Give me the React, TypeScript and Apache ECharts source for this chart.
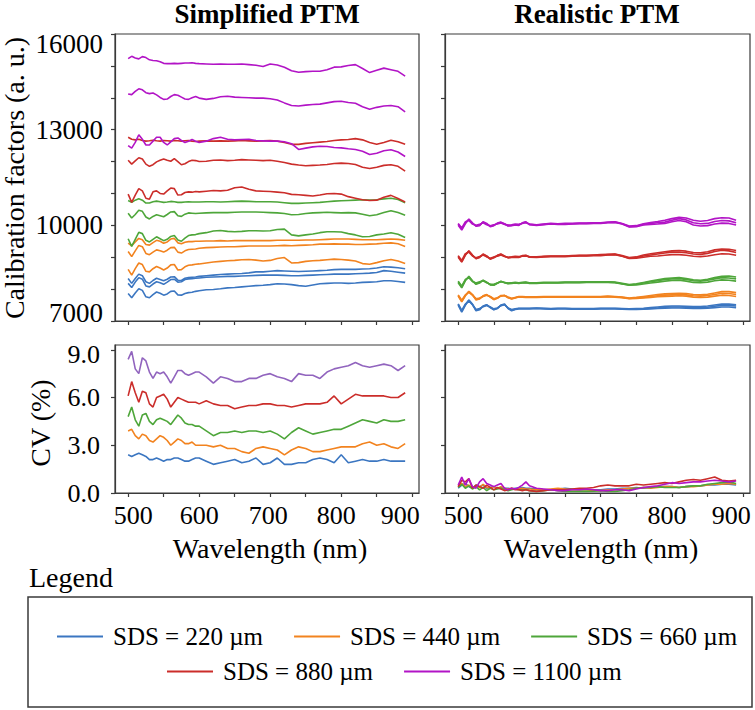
import React, { useEffect, useRef } from "react";
import * as echarts from "echarts";

// ---------- data ----------
const WAVELENGTHS = [
  500, 505, 510, 515, 520, 525, 530, 535, 540, 545, 550, 555, 560, 565, 570, 575, 580, 585, 590, 595, 600,
  610, 620, 630, 640, 650, 660, 670, 680, 690, 700, 710, 720, 730, 740, 750, 760, 770, 780, 790, 800,
  810, 820, 830, 840, 850, 860, 870, 880, 890,
];

const SDS_NAMES = ["SDS = 220 µm", "SDS = 440 µm", "SDS = 660 µm", "SDS = 880 µm", "SDS = 1100 µm"];

const X_TICKS = [500, 550, 600, 650, 700, 750, 800, 850, 900];
const X_TICK_LABELS = [500, 600, 700, 800, 900];
const CAL_TICK_LABELS = [7000, 10000, 13000, 16000];
const CV_TICK_LABELS = [0, 3, 6, 9];

// Simplified PTM – calibration factors (a. u.)
const simpBlue1 = [8330,8180,8330,8470,8420,8230,8180,8270,8340,8300,8260,8310,8380,8390,8280,8270,8340,8360,8370,8380,8400,
  8420,8440,8460,8470,8480,8490,8510,8540,8540,8560,8580,8570,8560,8550,8560,8570,8580,8590,8610,8620,8620,8620,8630,8640,8660,8700,8690,8670,8640];
const simpBlue2 = [8180,8050,8220,8360,8310,8100,8070,8160,8230,8200,8150,8220,8300,8310,8220,8230,8300,8320,8330,8340,8350,
  8370,8380,8390,8400,8400,8410,8420,8430,8440,8440,8440,8430,8420,8420,8430,8440,8450,8460,8470,8470,8470,8480,8490,8500,8520,8580,8560,8530,8500];
const simpBlue3 = [7860,7730,7880,8010,7960,7760,7730,7830,7910,7870,7810,7850,7930,7940,7820,7810,7860,7890,7900,7930,7950,
  7980,7990,8010,8040,8050,8070,8090,8110,8120,8140,8170,8160,8140,8110,8090,8130,8170,8180,8190,8190,8180,8190,8210,8220,8230,8260,8260,8240,8210];
const simpOrange1 = [9440,9360,9480,9590,9550,9400,9380,9460,9530,9500,9440,9480,9570,9590,9450,9420,9470,9490,9490,9500,9500,
  9510,9510,9520,9510,9520,9520,9520,9520,9520,9520,9530,9530,9530,9530,9540,9540,9550,9560,9570,9570,9570,9560,9550,9550,9550,9560,9570,9560,9530];
const simpOrange2 = [9180,9020,9200,9370,9330,9120,9080,9160,9230,9200,9160,9220,9300,9310,9160,9130,9200,9240,9250,9260,9280,
  9300,9310,9320,9330,9330,9340,9350,9350,9350,9350,9360,9370,9360,9370,9380,9390,9410,9410,9420,9410,9410,9400,9400,9410,9420,9440,9450,9420,9340];
const simpOrange3 = [8620,8440,8640,8820,8770,8560,8540,8640,8710,8660,8600,8660,8760,8770,8600,8610,8700,8750,8760,8780,8790,
  8820,8850,8870,8890,8900,8920,8930,8910,8880,8900,8960,8990,8820,8830,8870,8890,8900,8920,8940,8930,8910,8880,8800,8780,8830,8890,8930,8880,8800];
const simpGreen1 = [10780,10720,10790,10830,10790,10700,10700,10740,10760,10740,10720,10730,10750,10740,10720,10720,10730,10740,10730,10730,10730,
  10740,10740,10730,10740,10750,10760,10750,10740,10740,10740,10730,10710,10690,10690,10700,10710,10720,10740,10760,10770,10780,10790,10800,10790,10800,10830,10850,10810,10710];
const simpGreen2 = [10380,10230,10340,10470,10440,10260,10200,10280,10330,10300,10270,10340,10420,10430,10300,10280,10350,10390,10380,10370,10380,
  10390,10400,10400,10400,10410,10420,10420,10420,10410,10400,10390,10370,10330,10340,10370,10390,10400,10410,10400,10390,10400,10390,10350,10300,10330,10400,10460,10400,10320];
const simpGreen3 = [9580,9340,9560,9780,9740,9530,9480,9560,9640,9580,9520,9560,9650,9680,9540,9500,9600,9680,9700,9710,9740,
  9770,9820,9840,9810,9800,9810,9830,9830,9820,9830,9870,9880,9700,9670,9700,9730,9770,9800,9800,9790,9740,9700,9640,9650,9700,9730,9770,9720,9620];
const simpRed1 = [12760,12700,12680,12700,12660,12640,12650,12670,12650,12640,12660,12650,12640,12660,12650,12640,12650,12660,12640,12630,12640,
  12650,12640,12650,12640,12650,12660,12650,12640,12650,12660,12640,12600,12540,12540,12570,12590,12610,12630,12660,12680,12690,12720,12680,12600,12540,12600,12670,12620,12540];
const simpRed2 = [12040,11920,12020,12120,12080,11920,11850,11900,11990,12040,12080,12040,12010,12090,12000,11900,11930,12000,12040,12030,12000,
  12010,12040,12050,12030,12040,12060,12050,12040,12030,12040,12010,11970,11920,11890,11870,11880,11890,11910,11940,11950,11940,11910,11820,11780,11820,11880,11900,11850,11700];
const simpRed3 = [10980,10720,10950,11150,11080,10850,10820,11050,11080,11000,10980,11080,11170,11150,10950,10960,11030,11050,11040,11060,11050,
  11070,11090,11080,11100,11180,11200,11130,11080,11070,11060,11040,11020,10970,10960,10940,10920,10950,10990,11000,10980,10900,10850,10800,10780,10790,10880,10940,10840,10730];
const simpPurple1 = [15230,15300,15250,15220,15290,15260,15190,15170,15160,15130,15080,15070,15070,15080,15070,15080,15090,15090,15100,15080,15070,
  15060,15050,15060,15050,15050,15060,15040,15020,14980,15060,15030,14960,14850,14800,14820,14830,14830,14880,14960,14970,15010,15040,14920,14790,14860,14930,14880,14830,14680];
const simpPurple2 = [14120,14100,14200,14280,14250,14160,14130,14150,14090,14010,13950,13960,14040,14100,14080,14020,13960,13950,14000,14040,13990,
  13950,13980,14030,14050,14020,14010,14000,13990,13990,13970,13930,13840,13760,13740,13770,13790,13800,13840,13880,13890,13850,13830,13720,13640,13700,13740,13760,13720,13560];
const simpPurple3 = [12500,12420,12600,12840,12700,12520,12520,12640,12760,12760,12600,12520,12620,12720,12740,12660,12600,12640,12690,12640,12600,
  12640,12720,12760,12700,12680,12690,12700,12660,12650,12640,12640,12620,12560,12380,12420,12460,12480,12470,12440,12430,12400,12380,12320,12220,12260,12340,12370,12300,12160];

// Realistic PTM – calibration factors (a. u.)
const realBlue1 = [7520,7300,7510,7650,7520,7340,7370,7460,7500,7430,7360,7400,7490,7520,7400,7340,7370,7390,7390,7390,7390,
  7400,7390,7380,7390,7390,7380,7380,7380,7380,7390,7390,7390,7380,7370,7370,7380,7400,7410,7430,7440,7440,7430,7420,7420,7430,7460,7490,7490,7470];
const realBlue2 = [7540,7330,7530,7630,7510,7360,7390,7450,7490,7440,7380,7410,7480,7510,7410,7360,7380,7400,7400,7400,7400,
  7410,7400,7390,7400,7400,7390,7390,7390,7390,7400,7400,7400,7390,7380,7390,7400,7420,7440,7460,7470,7470,7460,7450,7450,7470,7500,7530,7530,7510];
const realBlue3 = [7500,7280,7490,7660,7530,7320,7350,7470,7510,7420,7350,7390,7500,7530,7390,7320,7360,7380,7380,7380,7380,
  7390,7380,7370,7380,7380,7370,7370,7370,7370,7380,7380,7380,7370,7360,7360,7370,7380,7390,7400,7410,7410,7400,7390,7390,7400,7420,7440,7440,7420];
const realOrange1 = [7800,7620,7800,7920,7820,7680,7700,7780,7820,7760,7680,7720,7790,7800,7740,7700,7730,7760,7760,7750,7750,
  7750,7760,7760,7760,7760,7760,7760,7760,7760,7760,7770,7760,7740,7710,7720,7740,7770,7790,7810,7820,7830,7820,7790,7780,7800,7830,7870,7860,7830];
const realOrange2 = [7820,7650,7820,7900,7810,7700,7720,7770,7810,7770,7700,7730,7780,7800,7750,7710,7740,7770,7770,7760,7760,
  7760,7770,7770,7770,7770,7770,7770,7770,7770,7770,7780,7770,7750,7720,7740,7770,7800,7830,7850,7860,7870,7860,7830,7820,7840,7880,7920,7920,7890];
const realOrange3 = [7780,7600,7790,7930,7830,7660,7690,7790,7830,7750,7670,7710,7800,7800,7730,7690,7720,7750,7750,7740,7740,
  7740,7750,7750,7750,7750,7750,7750,7750,7750,7750,7760,7750,7730,7700,7710,7720,7740,7760,7770,7780,7790,7780,7750,7740,7750,7780,7810,7800,7770];
const realGreen1 = [8230,8060,8280,8380,8250,8170,8210,8270,8210,8140,8130,8190,8240,8210,8180,8190,8200,8190,8200,8210,8190,
  8190,8200,8200,8200,8210,8210,8210,8220,8220,8220,8220,8210,8170,8130,8150,8190,8230,8260,8300,8320,8330,8300,8260,8250,8280,8320,8360,8350,8320];
const realGreen2 = [8250,8100,8300,8360,8240,8190,8230,8260,8200,8150,8150,8190,8230,8210,8190,8200,8210,8200,8210,8220,8200,
  8200,8210,8210,8210,8220,8220,8220,8230,8230,8230,8230,8220,8180,8140,8170,8210,8250,8290,8330,8350,8360,8330,8290,8280,8310,8360,8400,8410,8380];
const realGreen3 = [8200,8040,8260,8400,8260,8150,8190,8280,8220,8130,8120,8180,8250,8200,8170,8180,8190,8180,8190,8200,8180,
  8180,8190,8190,8190,8200,8200,8200,8210,8210,8210,8210,8200,8160,8120,8130,8160,8190,8220,8250,8270,8280,8250,8210,8200,8220,8260,8290,8280,8250];
const realRed1 = [9030,8860,9080,9190,9060,8960,9000,9090,9030,8950,8990,9050,9090,9030,8990,9000,9010,9000,9040,9050,9010,
  9000,9020,9030,9030,9030,9040,9050,9050,9060,9060,9080,9090,9040,8970,8990,9040,9070,9100,9130,9160,9160,9140,9100,9090,9120,9180,9220,9200,9150];
const realRed2 = [9050,8900,9110,9160,9040,8980,9020,9070,9010,8970,9010,9030,9070,9020,9000,9010,9030,9020,9030,9040,9020,
  9010,9030,9040,9040,9040,9050,9060,9060,9070,9080,9090,9100,9050,8990,9010,9070,9110,9140,9170,9200,9210,9190,9150,9140,9170,9230,9260,9250,9210];
const realRed3 = [9000,8850,9060,9200,9070,8950,8990,9100,9040,8940,8980,9060,9100,9040,8980,8990,9000,8990,9050,9060,9000,
  8990,9010,9020,9020,9020,9030,9040,9040,9050,9050,9070,9080,9030,8960,8970,9000,9030,9040,9060,9080,9080,9060,9030,9020,9040,9080,9110,9100,9060];
const realPurple1 = [10040,9880,10080,10180,10060,9980,10010,10100,10040,9970,10000,10060,10090,10040,9990,10000,10020,10010,10070,10100,10030,
  10010,10030,10050,10040,10040,10050,10060,10060,10070,10070,10090,10100,10050,9960,9970,10030,10060,10080,10100,10160,10210,10170,10080,10050,10060,10120,10150,10140,10080];
const realPurple2 = [10060,9920,10110,10150,10040,10000,10030,10080,10020,9990,10020,10040,10070,10030,10010,10020,10040,10030,10060,10080,10040,
  10020,10040,10060,10050,10060,10060,10070,10070,10080,10080,10100,10110,10060,9980,9990,10050,10090,10120,10160,10210,10250,10230,10160,10130,10150,10210,10240,10230,10160];
const realPurple3 = [10000,9850,10050,10200,10080,9970,9990,10110,10060,9960,9990,10070,10100,10050,9980,9990,10010,10000,10080,10110,10020,
  10000,10020,10040,10030,10030,10040,10050,10050,10060,10060,10080,10090,10040,9950,9960,10010,10030,10040,10060,10110,10150,10110,10010,9980,9990,10040,10070,10060,10010];

// CV (%) – Simplified PTM
const cvSimpBlue = [2.4,2.3,2.4,2.5,2.4,2.3,2.1,2.1,2.2,2.1,2.0,2.1,2.1,2.2,2.2,2.1,2.0,2.0,2.1,2.2,2.2,
  2.0,1.8,1.9,2.0,2.1,1.9,2.0,2.2,1.8,1.9,2.2,1.8,1.8,1.9,1.9,2.1,2.2,2.1,1.9,2.4,1.9,2.0,2.1,2.0,2.0,2.1,2.0,2.0,2.0];
const cvSimpOrange = [3.9,4.0,3.6,3.4,3.7,3.6,3.3,3.2,3.4,3.6,3.5,3.3,3.0,3.2,3.4,3.3,3.1,3.1,3.2,3.0,3.0,
  3.0,2.9,3.0,2.8,2.8,2.6,2.5,2.8,2.9,2.8,2.7,2.4,2.7,2.9,2.8,2.6,2.6,2.7,2.8,2.9,2.9,2.9,3.1,3.2,3.0,3.1,2.9,2.8,3.1];
const cvSimpGreen = [4.8,5.4,4.6,4.2,4.9,5.0,4.5,4.3,4.6,4.7,4.6,4.5,4.3,4.6,4.9,4.7,4.4,4.3,4.3,4.2,4.2,
  3.9,3.6,3.8,3.8,3.9,3.8,3.9,3.9,3.8,3.9,3.7,3.4,3.8,4.1,3.9,3.7,3.8,3.9,4.0,4.0,4.2,4.4,4.6,4.5,4.4,4.6,4.5,4.5,4.6];
const cvSimpRed = [6.1,7.0,6.3,5.7,6.4,6.3,5.6,5.4,6.0,6.1,6.2,5.9,5.4,5.7,6.0,5.9,5.8,5.7,5.7,5.7,5.6,
  5.8,5.6,5.5,5.5,5.3,5.4,5.5,5.5,5.6,5.6,5.5,5.5,5.4,5.5,5.6,5.6,5.6,5.7,6.1,5.6,5.9,6.2,6.1,6.1,6.1,6.1,6.0,6.0,6.3];
const cvSimpPurple = [8.4,8.9,7.8,7.5,8.5,8.3,7.6,7.2,7.6,7.5,7.6,7.3,6.9,7.3,7.7,7.7,7.5,7.4,7.5,7.6,7.6,
  7.3,6.9,7.3,7.2,7.0,7.0,7.2,7.2,7.4,7.5,7.3,7.2,7.0,7.5,7.4,7.4,7.2,7.6,7.8,7.9,8.0,8.2,8.0,7.9,8.0,8.1,8.0,7.7,8.0];

// CV (%) – Realistic PTM
const cvRealBlue = [0.3,0.5,0.6,0.4,0.3,0.5,0.4,0.5,0.3,0.35,0.4,0.3,0.35,0.3,0.3,0.25,0.3,0.3,0.35,0.3,0.3,
  0.25,0.2,0.2,0.25,0.3,0.25,0.2,0.2,0.2,0.2,0.25,0.25,0.3,0.3,0.35,0.3,0.35,0.4,0.4,0.4,0.35,0.4,0.45,0.45,0.5,0.5,0.55,0.55,0.5];
const cvRealOrange = [0.4,0.6,0.4,0.5,0.3,0.45,0.35,0.55,0.35,0.3,0.4,0.3,0.4,0.3,0.25,0.3,0.25,0.25,0.3,0.25,0.25,
  0.2,0.2,0.25,0.3,0.25,0.2,0.2,0.2,0.15,0.15,0.2,0.2,0.25,0.3,0.3,0.35,0.3,0.35,0.4,0.4,0.35,0.4,0.4,0.45,0.5,0.55,0.55,0.6,0.55];
const cvRealGreen = [0.35,0.55,0.3,0.45,0.25,0.4,0.2,0.35,0.15,0.3,0.2,0.25,0.3,0.2,0.15,0.2,0.25,0.2,0.2,0.2,0.15,
  0.1,0.15,0.2,0.15,0.1,0.1,0.1,0.1,0.12,0.15,0.1,0.1,0.15,0.2,0.3,0.35,0.35,0.4,0.35,0.35,0.35,0.4,0.45,0.45,0.55,0.6,0.65,0.7,0.6];
const cvRealRed = [0.4,0.8,0.7,0.9,0.3,0.5,0.4,0.3,0.5,0.35,0.2,0.35,0.25,0.15,0.2,0.3,0.2,0.2,0.15,0.2,0.15,
  0.1,0.15,0.2,0.2,0.2,0.25,0.3,0.3,0.35,0.45,0.5,0.45,0.45,0.45,0.55,0.5,0.55,0.6,0.65,0.6,0.7,0.8,0.85,0.8,0.9,1.0,0.8,0.75,0.8];
const cvRealPurple = [0.5,1.0,0.5,0.9,0.4,0.3,0.7,0.9,0.6,0.5,0.4,0.5,0.6,0.3,0.2,0.3,0.25,0.35,0.5,0.7,0.45,
  0.3,0.25,0.2,0.15,0.15,0.2,0.2,0.25,0.2,0.15,0.15,0.2,0.2,0.15,0.25,0.35,0.4,0.45,0.55,0.65,0.6,0.65,0.7,0.7,0.75,0.8,0.75,0.7,0.75];

// ---------- styling ----------
const SERIF = "Liberation Serif";
const BLUE = "#3b76c1";
const ORANGE = "#f2831f";
const GREEN = "#4ea63a";
const RED = "#cb2d2a";
const MAGENTA = "#b214c6";
const CV_PURPLE = "#9164be";
const FRAME = "#3a3a3a";

const GRIDS = [
  { left: 115, top: 34, width: 304, height: 287 },
  { left: 445, top: 34, width: 305, height: 287 },
  { left: 115, top: 345, width: 304, height: 148 },
  { left: 445, top: 345, width: 305, height: 148 },
];

function lineSeries(name: string, color: string, values: number[], gi: number) {
  return {
    type: "line",
    name,
    xAxisIndex: gi,
    yAxisIndex: gi,
    data: WAVELENGTHS.map((w, i) => [w, values[i]]),
    symbol: "none",
    showSymbol: false,
    silent: true,
    clip: true,
    lineStyle: { color, width: 1.6 },
    itemStyle: { color },
  };
}

const X_SHIFT_PAD: Record<number, number[]> = {
  500: [0, 0, 0, 10],
  600: [0, 0, 0, 0],
  700: [0, 4, 0, 0],
  800: [0, 10, 0, 0],
  900: [0, 24, 0, 0],
};

function xAxisFor(gi: number, showLabels: boolean) {
  const rich: Record<string, any> = {};
  X_TICK_LABELS.forEach((v) => {
    rich["s" + v] = { fontSize: 26, fontFamily: SERIF, color: "#000", padding: X_SHIFT_PAD[v] };
  });
  return {
    type: "value",
    gridIndex: gi,
    min: 481.5,
    max: 909.5,
    axisLine: { show: true, onZero: false, lineStyle: { color: FRAME, width: 1.2 } },
    axisTick: { show: true, inside: false, length: 4, customValues: X_TICKS, lineStyle: { color: FRAME, width: 1.2 } },
    axisLabel: {
      show: showLabels,
      customValues: X_TICK_LABELS,
      margin: 9,
      fontSize: 26,
      fontFamily: SERIF,
      color: "#000",
      formatter: (v: number) => `{s${v}|${v}}`,
      rich,
    },
    splitLine: { show: false },
  };
}

function calYAxis(gi: number, showLabels: boolean) {
  return {
    type: "value",
    gridIndex: gi,
    min: 7000,
    max: 16000,
    interval: 1000,
    axisLine: { show: true, onZero: false, lineStyle: { color: FRAME, width: 1.2 } },
    axisTick: { show: true, inside: false, length: 4, lineStyle: { color: FRAME, width: 1.2 } },
    axisLabel: {
      show: showLabels,
      customValues: CAL_TICK_LABELS,
      margin: 12,
      fontSize: 27,
      fontFamily: SERIF,
      color: "#000",
      formatter: (v: number) => (v === 16000 ? `{t|${v}}` : v === 7000 ? `{b|${v}}` : `${v}`),
      rich: {
        t: { fontSize: 27, fontFamily: SERIF, color: "#000", padding: [20, 0, 0, 0] },
        b: { fontSize: 27, fontFamily: SERIF, color: "#000", padding: [0, 0, 16, 0] },
      },
    },
    splitLine: { show: false },
  };
}

function cvYAxis(gi: number, showLabels: boolean) {
  return {
    type: "value",
    gridIndex: gi,
    min: 0,
    max: 9.3,
    axisLine: { show: true, onZero: false, lineStyle: { color: FRAME, width: 1.2 } },
    axisTick: { show: true, inside: false, length: 4, customValues: CV_TICK_LABELS, lineStyle: { color: FRAME, width: 1.2 } },
    axisLabel: {
      show: showLabels,
      customValues: CV_TICK_LABELS,
      margin: 15,
      fontSize: 26,
      fontFamily: SERIF,
      color: "#000",
      formatter: (v: number) => (v === 9 ? `{t|${v.toFixed(1)}}` : v.toFixed(1)),
      rich: {
        t: { fontSize: 26, fontFamily: SERIF, color: "#000", padding: [10, 0, 0, 0] },
      },
    },
    splitLine: { show: false },
  };
}

function buildOption() {
  const series: any[] = [];
  const groups: [string, string, number[][], number][] = [
    [SDS_NAMES[0], BLUE, [simpBlue1, simpBlue2, simpBlue3], 0],
    [SDS_NAMES[1], ORANGE, [simpOrange1, simpOrange2, simpOrange3], 0],
    [SDS_NAMES[2], GREEN, [simpGreen1, simpGreen2, simpGreen3], 0],
    [SDS_NAMES[3], RED, [simpRed1, simpRed2, simpRed3], 0],
    [SDS_NAMES[4], MAGENTA, [simpPurple1, simpPurple2, simpPurple3], 0],
    [SDS_NAMES[0], BLUE, [realBlue1, realBlue2, realBlue3], 1],
    [SDS_NAMES[1], ORANGE, [realOrange1, realOrange2, realOrange3], 1],
    [SDS_NAMES[2], GREEN, [realGreen1, realGreen2, realGreen3], 1],
    [SDS_NAMES[3], RED, [realRed1, realRed2, realRed3], 1],
    [SDS_NAMES[4], MAGENTA, [realPurple1, realPurple2, realPurple3], 1],
    [SDS_NAMES[0], BLUE, [cvSimpBlue], 2],
    [SDS_NAMES[1], ORANGE, [cvSimpOrange], 2],
    [SDS_NAMES[2], GREEN, [cvSimpGreen], 2],
    [SDS_NAMES[3], RED, [cvSimpRed], 2],
    [SDS_NAMES[4], CV_PURPLE, [cvSimpPurple], 2],
    [SDS_NAMES[0], BLUE, [cvRealBlue], 3],
    [SDS_NAMES[1], ORANGE, [cvRealOrange], 3],
    [SDS_NAMES[2], GREEN, [cvRealGreen], 3],
    [SDS_NAMES[3], RED, [cvRealRed], 3],
    [SDS_NAMES[4], MAGENTA, [cvRealPurple], 3],
  ];
  groups.forEach(([name, color, lines, gi]) => {
    lines.forEach((vals) => series.push(lineSeries(name, color, vals, gi)));
  });

  const legendCommon = {
    orient: "horizontal",
    icon: "rect",
    itemWidth: 46,
    itemHeight: 2,
    itemGap: 31,
    padding: 0,
    selectedMode: false,
    textStyle: { fontSize: 25, fontFamily: SERIF, color: "#000", padding: [0, 0, 0, 5] },
  };

  const txt = (size: number, align = "center") => ({
    fontSize: size,
    fontFamily: SERIF,
    fill: "#000",
    align,
    verticalAlign: "middle",
  });

  return {
    animation: false,
    backgroundColor: "#ffffff",
    grid: GRIDS.map((g) => ({
      ...g,
      show: true,
      borderColor: FRAME,
      borderWidth: 1.2,
      backgroundColor: "transparent",
      containLabel: false,
      outerBoundsMode: "none",
    })),
    xAxis: [xAxisFor(0, false), xAxisFor(1, false), xAxisFor(2, true), xAxisFor(3, true)],
    yAxis: [calYAxis(0, true), calYAxis(1, false), cvYAxis(2, true), cvYAxis(3, false)],
    legend: [
      { ...legendCommon, data: SDS_NAMES.slice(0, 3), left: 57, top: 624 },
      { ...legendCommon, data: SDS_NAMES.slice(3), left: 167, top: 659 },
    ],
    graphic: [
      { type: "text", x: 267, y: 14, style: { text: "Simplified PTM", font: "bold 27px Liberation Serif", fill: "#000", align: "center", verticalAlign: "middle" } },
      { type: "text", x: 597, y: 14, style: { text: "Realistic PTM", font: "bold 27px Liberation Serif", fill: "#000", align: "center", verticalAlign: "middle" } },
      { type: "text", x: 14, y: 178, rotation: Math.PI / 2, style: { text: "Calibration factors (a. u.)", ...txt(28) } },
      { type: "text", x: 40, y: 423, rotation: Math.PI / 2, style: { text: "CV (%)", ...txt(28) } },
      { type: "text", x: 270, y: 548, style: { text: "Wavelength (nm)", ...txt(28) } },
      { type: "text", x: 601, y: 548, style: { text: "Wavelength (nm)", ...txt(28) } },
      { type: "text", x: 29, y: 577, style: { text: "Legend", ...txt(28, "left") } },
      {
        type: "rect",
        shape: { x: 28, y: 597, width: 724, height: 110 },
        style: { fill: "none", stroke: FRAME, lineWidth: 1.5 },
      },
    ],
    series,
  };
}

export default function App() {
  const ref = useRef<HTMLDivElement>(null);
  useEffect(() => {
    if (!ref.current) return;
    const chart = echarts.init(ref.current, null, { renderer: "svg" });
    chart.setOption(buildOption() as any);
    return () => chart.dispose();
  }, []);
  return (
    <div
      ref={ref}
      style={{ position: "absolute", left: 0, top: 0, width: 755, height: 710, background: "#fff" }}
    />
  );
}
